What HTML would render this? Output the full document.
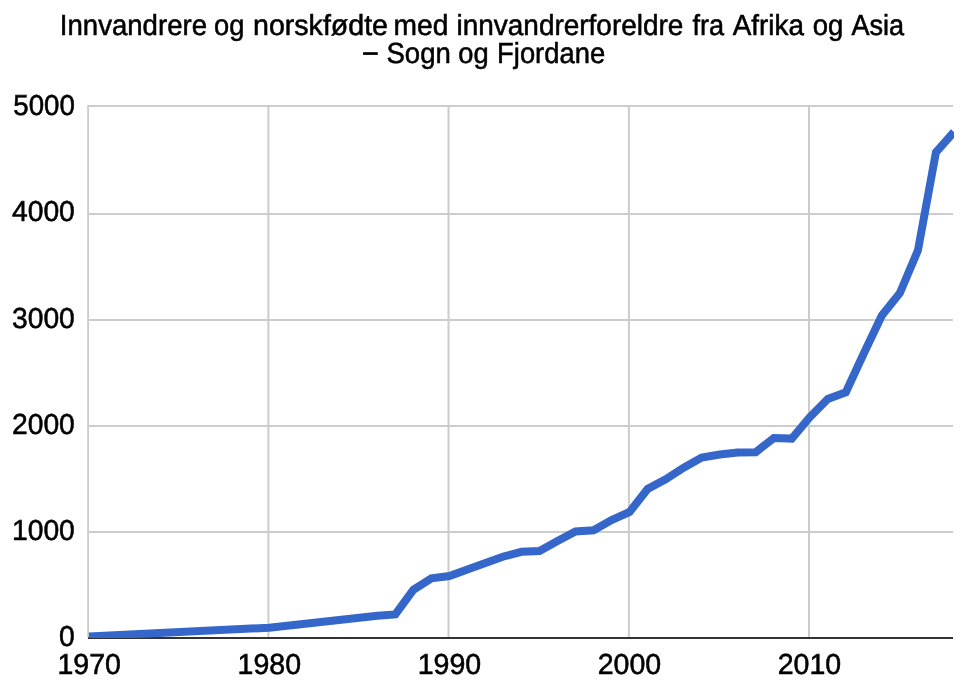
<!DOCTYPE html>
<html lang="no">
<head>
<meta charset="utf-8">
<title>Innvandrere og norskfødte med innvandrerforeldre fra Afrika og Asia – Sogn og Fjordane</title>
<style>
html,body{margin:0;padding:0;background:#fff;}
body{width:968px;height:685px;overflow:hidden;}
svg{display:block;}
text{font-family:"Liberation Sans",sans-serif;text-rendering:geometricPrecision;fill:#000;stroke:#000;stroke-width:0.55px;}
.title text{font-size:29px;text-anchor:start;}
.yaxis text{font-size:28.9px;text-anchor:end;}
.xaxis text{font-size:28.9px;text-anchor:middle;}
</style>
</head>
<body>
<svg width="968" height="685" viewBox="0 0 968 685">
<rect x="0" y="0" width="968" height="685" fill="#ffffff"/>
<defs><clipPath id="plot"><rect x="88" y="106" width="866" height="532"/></clipPath></defs>
<g class="title">
<text transform="translate(59.86,35) scale(0.9505,1)">Innvandrere </text>
<text transform="translate(214.06,35) scale(0.9412,1)">og </text>
<text transform="translate(253.02,35) scale(0.9851,1)">norskfødte </text>
<text transform="translate(393.54,35) scale(0.972,1)">med </text>
<text transform="translate(456.55,35) scale(0.9635,1)">innvandrerforeldre </text>
<text transform="translate(692.5,35) scale(0.9343,1)">fra </text>
<text transform="translate(732.74,35) scale(0.9599,1)">Afrika </text>
<text transform="translate(812.8,35) scale(0.9496,1)">og </text>
<text transform="translate(851.48,35) scale(0.9342,1)">Asia </text>
<text transform="translate(363.41,61) scale(0.8597,1)" style="stroke-width:0.9px">– </text>
<text transform="translate(386.45,63) scale(0.9502,1)">Sogn </text>
<text transform="translate(458.26,63) scale(0.9412,1)">og </text>
<text transform="translate(497.11,63) scale(0.9435,1)">Fjordane </text>
</g>
<g class="grid" fill="#cccccc">
<rect x="87.2" y="105.5" width="1.8" height="532"/>
<rect x="267.4" y="105" width="2" height="534"/>
<rect x="447.5" y="105" width="2" height="534"/>
<rect x="627.9" y="105" width="2" height="534"/>
<rect x="808" y="105" width="2" height="534"/>
<rect x="87.5" y="105" width="865.5" height="2"/>
<rect x="87.5" y="213" width="865.5" height="2"/>
<rect x="87.5" y="319" width="865.5" height="2"/>
<rect x="87.5" y="425" width="865.5" height="2"/>
<rect x="87.5" y="531" width="865.5" height="2"/>
</g>
<rect x="88" y="637" width="865" height="2" fill="#333333"/>
<g clip-path="url(#plot)">
<polyline fill="none" stroke="#3567cb" stroke-width="8" stroke-linejoin="miter" points="89.00,636.4 269.20,627.7 377.32,615.7 395.34,614.4 413.36,589.8 431.38,578.3 449.40,576 467.42,569.5 485.44,563 503.46,556.5 521.48,551.8 539.50,551 557.52,541 575.54,531.5 593.56,530.3 611.58,520 629.60,512 647.62,489 665.64,479.3 683.66,467.7 701.68,457.6 719.70,454.5 737.72,452.6 755.74,452.2 773.76,438 791.78,438.6 809.80,417.2 827.82,398.9 845.84,392.2 863.86,353.3 881.88,315.5 899.90,293 917.92,250.4 935.94,152.3 953.96,131.9"/>
</g>
<g class="yaxis">
<text transform="translate(74.85,115) scale(0.9587,1)">5000</text>
<text transform="translate(74.85,221) scale(0.9783,1)">4000</text>
<text transform="translate(74.85,328) scale(0.9783,1)">3000</text>
<text transform="translate(74.85,434) scale(0.9783,1)">2000</text>
<text transform="translate(74.85,540) scale(0.9783,1)">1000</text>
<text transform="translate(74.85,646) scale(0.9783,1)">0</text>
</g>
<g class="xaxis">
<text transform="translate(89.2,674) scale(0.9882,1)">1970</text>
<text transform="translate(269.3,674) scale(0.9882,1)">1980</text>
<text transform="translate(449.5,674) scale(0.9882,1)">1990</text>
<text transform="translate(629.4,674) scale(0.9882,1)">2000</text>
<text transform="translate(809.4,674) scale(0.9882,1)">2010</text>
</g>
</svg>
</body>
</html>
